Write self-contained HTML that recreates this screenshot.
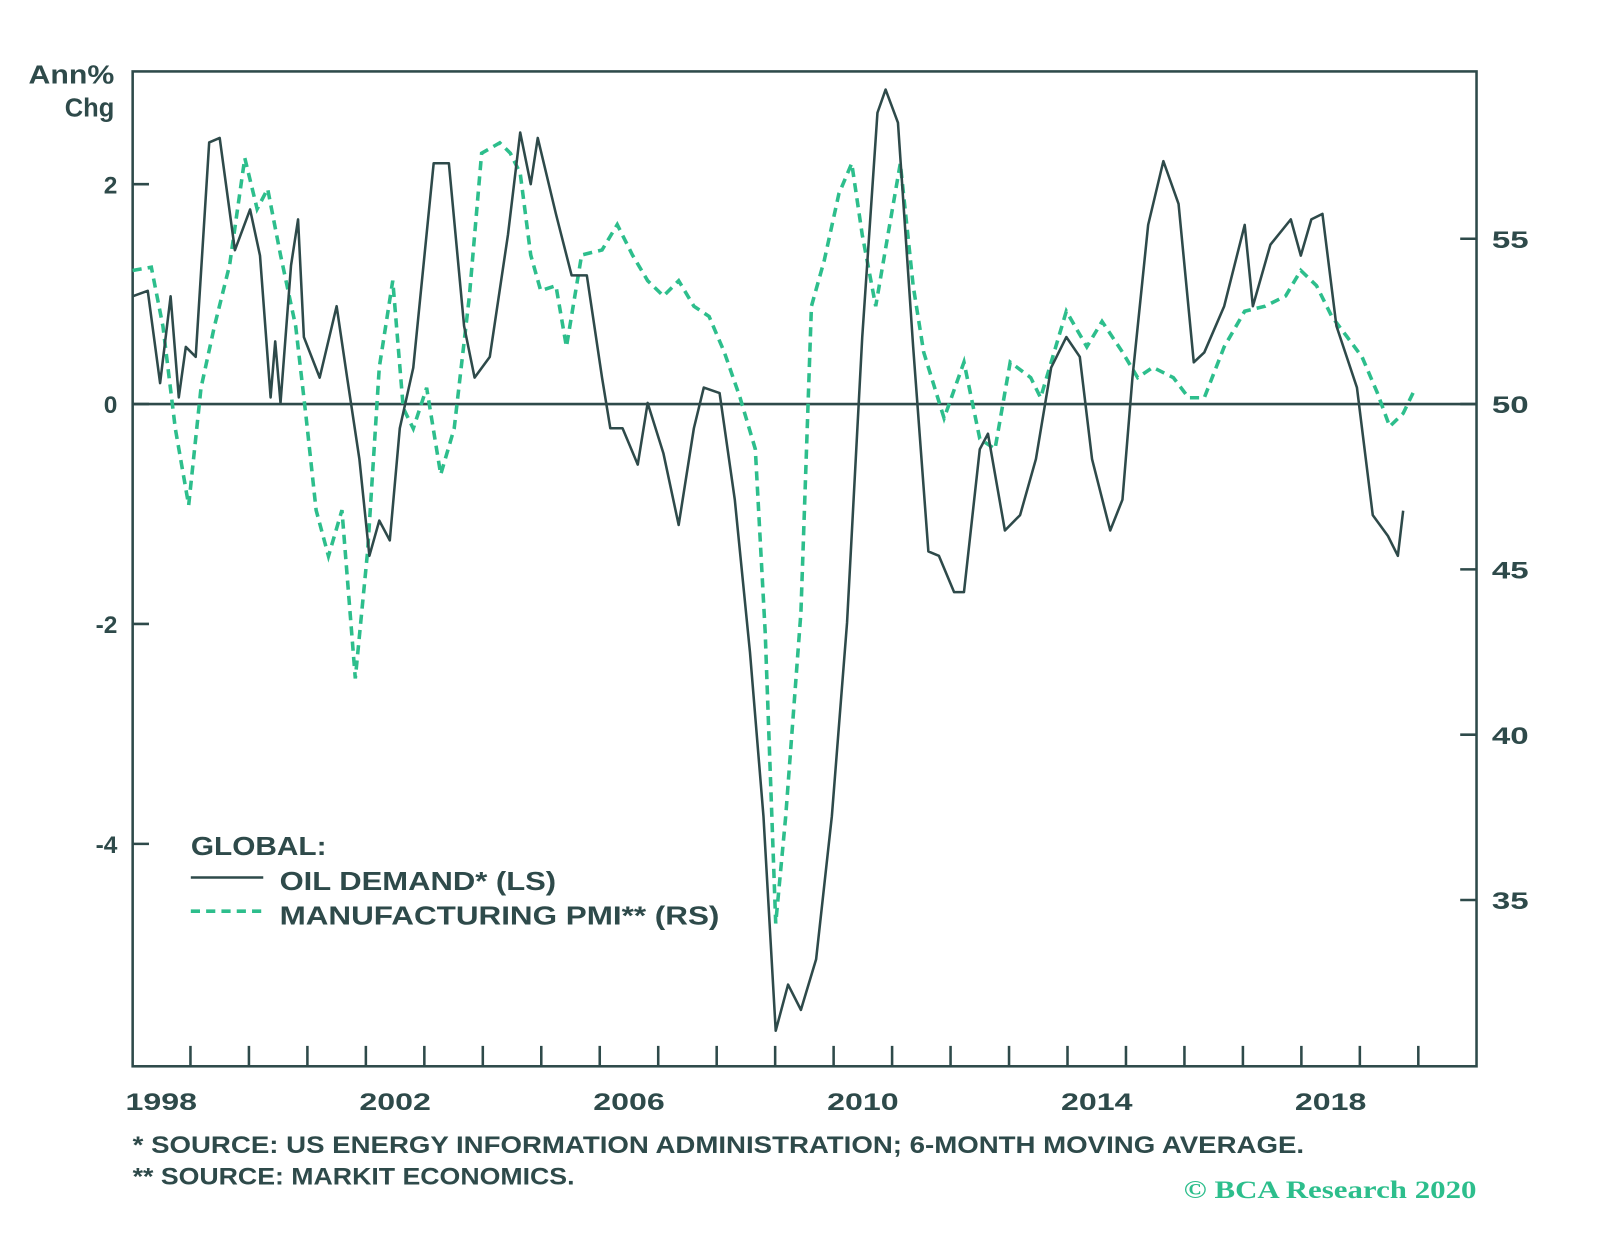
<!DOCTYPE html>
<html><head><meta charset="utf-8"><style>
html,body{margin:0;padding:0;background:#fff;width:1600px;height:1252px;overflow:hidden}
svg text{font-family:"Liberation Sans",sans-serif;font-weight:bold;fill:#2e4a4a}
</style></head><body>
<svg id="chart" width="1600" height="1252" viewBox="0 0 1568 1227" preserveAspectRatio="none" xmlns="http://www.w3.org/2000/svg"></svg>
<script>
const oilDates=[1997.51,1997.77,1997.98,1998.16,1998.30,1998.42,1998.59,1998.82,1999.0,1999.26,1999.52,1999.69,1999.87,1999.95,2000.04,2000.22,2000.34,2000.44,2000.71,2001.0,2001.18,2001.39,2001.56,2001.73,2001.91,2002.08,2002.31,2002.66,2002.92,2003.18,2003.36,2003.62,2003.93,2004.14,2004.32,2004.44,2004.75,2005.02,2005.28,2005.54,2005.68,2005.89,2006.15,2006.32,2006.59,2006.85,2007.11,2007.28,2007.55,2007.81,2008.07,2008.30,2008.51,2008.72,2008.94,2009.20,2009.47,2009.73,2009.99,2010.25,2010.39,2010.60,2010.86,2011.12,2011.30,2011.56,2011.73,2012.0,2012.14,2012.43,2012.69,2012.96,2013.22,2013.48,2013.71,2013.92,2014.23,2014.44,2014.61,2014.88,2015.14,2015.40,2015.66,2015.84,2016.18,2016.53,2016.67,2016.97,2017.32,2017.49,2017.67,2017.86,2018.10,2018.45,2018.72,2018.98,2019.15,2019.24];
const oilValues=[0.98,1.03,0.19,0.98,0.06,0.52,0.43,2.38,2.42,1.40,1.77,1.35,0.06,0.57,0.01,1.26,1.68,0.61,0.24,0.89,0.24,-0.50,-1.38,-1.06,-1.24,-0.22,0.33,2.19,2.19,0.71,0.24,0.43,1.54,2.47,2.00,2.42,1.73,1.17,1.17,0.24,-0.22,-0.22,-0.55,0.01,-0.45,-1.10,-0.22,0.15,0.10,-0.87,-2.26,-3.75,-5.70,-5.28,-5.51,-5.05,-3.75,-1.99,0.61,2.65,2.86,2.56,0.52,-1.34,-1.38,-1.71,-1.71,-0.41,-0.27,-1.15,-1.01,-0.50,0.33,0.61,0.43,-0.50,-1.15,-0.87,0.24,1.63,2.21,1.82,0.38,0.47,0.89,1.63,0.89,1.45,1.68,1.35,1.68,1.73,0.71,0.15,-1.01,-1.20,-1.38,-0.97];
const pmiDates=[1997.51,1997.83,1998.03,1998.24,1998.47,1998.68,1998.91,1999.17,1999.43,1999.64,1999.82,2000.04,2000.30,2000.48,2000.65,2000.86,2001.09,2001.32,2001.53,2001.73,2001.96,2002.14,2002.31,2002.54,2002.78,2003.01,2003.27,2003.48,2003.79,2003.97,2004.14,2004.32,2004.49,2004.75,2004.93,2005.19,2005.54,2005.80,2006.06,2006.32,2006.59,2006.85,2007.11,2007.37,2007.63,2007.90,2008.16,2008.33,2008.51,2008.68,2008.94,2009.12,2009.34,2009.59,2009.81,2009.99,2010.22,2010.43,2010.64,2010.86,2011.04,2011.39,2011.73,2012.0,2012.26,2012.52,2012.87,2013.04,2013.48,2013.83,2014.09,2014.44,2014.70,2014.96,2015.31,2015.57,2015.84,2016.18,2016.53,2016.88,2017.23,2017.49,2017.76,2018.02,2018.28,2018.54,2018.80,2019.01,2019.24,2019.41];
const pmiValues=[54.04,54.14,52.35,49.26,46.94,50.49,52.35,54.20,57.44,55.90,56.51,54.51,52.35,49.57,46.79,45.40,46.79,41.70,45.56,51.11,53.73,49.88,49.26,50.49,47.87,49.26,53.27,57.59,57.90,57.59,56.98,54.51,53.43,53.58,51.73,54.51,54.66,55.43,54.51,53.73,53.27,53.73,52.96,52.65,51.57,50.19,48.64,43.09,34.29,37.53,43.70,52.96,54.35,56.36,57.28,55.12,52.96,55.12,57.28,53.58,51.57,49.57,51.27,48.95,48.64,51.27,50.80,50.19,52.81,51.73,52.50,51.57,50.80,51.11,50.80,50.19,50.19,51.73,52.81,52.96,53.27,54.04,53.58,52.65,52.04,51.42,50.34,49.32,49.72,50.34];
const leftTicks=[2,0,-2,-4];
const leftTickLabels=["2","0","-2","-4"];
const rightTicks=[55,50,45,40,35];
const rightTickLabels=["55","50","45","40","35"];
const yearLabels=[1998,2002,2006,2010,2014,2018];

const L=130,R=1447,T=70,B=1045;
const xS=y=>158+(y-1998)*57.3;
const yL=v=>396-v*107.75;
const yR=v=>396-(v-50)*32.4;
const C="#2e4a4a",G="#2dbe8c";
const svg=document.getElementById('chart');
function mk(tag,attrs,txt){const e=document.createElementNS("http://www.w3.org/2000/svg",tag);for(const k in attrs)e.setAttribute(k,attrs[k]);if(txt!=null)e.textContent=txt;svg.appendChild(e);return e;}

let e=mk('rect',{x:L,y:T,width:R-L,height:B-T,fill:'none',stroke:C,'stroke-width':2.5});


e=mk('line',{x1:L,x2:R,y1:yL(0),y2:yL(0),stroke:C,'stroke-width':2.5});



leftTicks.forEach((v,i)=>{
  let t=mk('line',{x1:L,x2:L+16,y1:yL(v),y2:yL(v),stroke:C,'stroke-width':2.5});
  
  
  let l=mk('text',{x:115,y:yL(v)+9,'text-anchor':'end','font-size':24},leftTickLabels[i]);
  
  
});
rightTicks.forEach((v,i)=>{
  let t=mk('line',{x1:R-16,x2:R,y1:yR(v),y2:yR(v),stroke:C,'stroke-width':2.5});
  
  
  let l=mk('text',{x:1462,y:yR(v)+9,'font-size':24,textLength:36,lengthAdjust:'spacingAndGlyphs'},rightTickLabels[i]);
  
  
});
for(let yr=1998;yr<=2019;yr++){
  let t=mk('line',{x1:xS(yr+0.5),x2:xS(yr+0.5),y1:B,y2:B-20,stroke:C,'stroke-width':2.5});
  
  
}
yearLabels.forEach(yr=>{
  let l=mk('text',{x:xS(yr)-35,y:1088,'font-size':24,textLength:70,lengthAdjust:'spacingAndGlyphs'},String(yr));
  
  
});
e=mk('text',{x:28,y:82,'font-size':25,textLength:84,lengthAdjust:'spacingAndGlyphs'},'Ann%');


e=mk('text',{x:112,y:114,'text-anchor':'end','font-size':25},'Chg');



const pmiPts=pmiDates.map((d,i)=>xS(d).toFixed(1)+','+yR(pmiValues[i]).toFixed(1)).join(' ');
e=mk('polyline',{points:pmiPts,fill:'none',stroke:G,'stroke-width':3.5,'stroke-dasharray':'9,6'});


const oilPts=oilDates.map((d,i)=>xS(d).toFixed(1)+','+yL(oilValues[i]).toFixed(1)).join(' ');
e=mk('polyline',{points:oilPts,fill:'none',stroke:C,'stroke-width':2.5,'stroke-linejoin':'round'});



e=mk('text',{x:187,y:838,'font-size':25,textLength:133,lengthAdjust:'spacingAndGlyphs'},'GLOBAL:');


e=mk('line',{x1:187,x2:258,y1:860,y2:860,stroke:C,'stroke-width':2.5});


e=mk('text',{x:274,y:872,'font-size':25,textLength:271,lengthAdjust:'spacingAndGlyphs'},'OIL DEMAND* (LS)');


e=mk('line',{x1:187,x2:258,y1:893,y2:893,stroke:G,'stroke-width':3.5,'stroke-dasharray':'9,6'});


e=mk('text',{x:274,y:906,'font-size':25,textLength:431,lengthAdjust:'spacingAndGlyphs'},'MANUFACTURING PMI** (RS)');



e=mk('text',{x:130,y:1130,'font-size':24,textLength:1148,lengthAdjust:'spacingAndGlyphs'},'*  SOURCE: US ENERGY INFORMATION ADMINISTRATION; 6-MONTH MOVING AVERAGE.');


e=mk('text',{x:130,y:1161,'font-size':24,textLength:433,lengthAdjust:'spacingAndGlyphs'},'** SOURCE: MARKIT ECONOMICS.');


e=mk('text',{x:1160,y:1174,'font-size':25,textLength:287,lengthAdjust:'spacingAndGlyphs',style:'font-family:"Liberation Serif",serif;font-weight:bold;fill:#2dbe8c'},'© BCA Research 2020');


</script>
</body></html>
